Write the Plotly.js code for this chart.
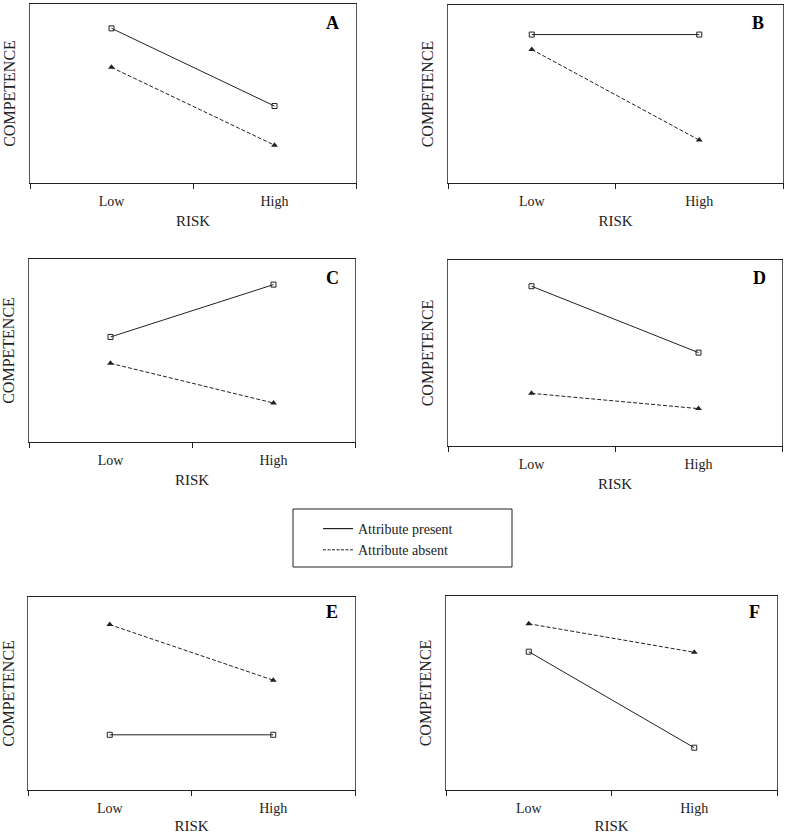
<!DOCTYPE html>
<html>
<head>
<meta charset="utf-8">
<script src="https://cdn.plot.ly/plotly-3.0.1.min.js"></script>
<style>html,body{margin:0;padding:0;background:#fff;}#chart{width:785px;height:834px;}</style>
</head>
<body>
<div id="chart"></div>
<script>
// ---- data ----
const riskLabels = ['Low', 'High'];
const panelNames = ['A', 'B', 'C', 'D', 'E', 'F'];
const seriesNames = ['Attribute present', 'Attribute absent'];
const presentA = [8.64, 4.30];
const absentA  = [6.46, 2.11];
const presentB = [8.34, 8.34];
const absentB  = [7.50, 2.41];
const presentC = [5.74, 8.60];
const absentC  = [4.30, 2.13];
const presentD = [8.59, 5.02];
const absentD  = [2.83, 2.01];
const presentE = [2.86, 2.86];
const absentE  = [8.57, 5.69];
const presentF = [7.13, 2.18];
const absentF  = [8.57, 7.10];
const xTitle = 'RISK';
const yTitle = 'COMPETENCE';

const presentAll = [presentA, presentB, presentC, presentD, presentE, presentF];
const absentAll  = [absentA, absentB, absentC, absentD, absentE, absentF];

// ---- layout geometry (pixels) ----
const W = 785, H = 834;
const boxes = [
  [30, 356, 4, 183],
  [448, 783, 5, 183],
  [29, 355, 259, 442],
  [448, 782, 260, 446],
  [28, 355, 597, 790],
  [446, 777, 596, 790]
];
const letterPos = [[332, 23], [758, 23], [332, 278], [759, 278], [332, 612], [754, 612]];
const FONT = 'Liberation Serif, Times New Roman, serif';
const INK = '#222';

const px = p => p / W;
const py = p => 1 - p / H;

const traces = [];
const layout = {
  width: W, height: H,
  margin: {l: 0, r: 0, t: 0, b: 0},
  paper_bgcolor: '#fff', plot_bgcolor: '#fff',
  font: {family: FONT, color: INK},
  annotations: [], shapes: [],
  showlegend: true,
  legend: {
    x: px(318), y: py(513), xanchor: 'left', yanchor: 'top',
    bgcolor: 'rgba(0,0,0,0)', borderwidth: 0,
    font: {family: FONT, size: 14, color: INK},
    tracegroupgap: 0
  }
};

panelNames.forEach((name, i) => {
  const k = i === 0 ? '' : String(i + 1);
  const b = boxes[i];
  const xa = 'x' + k, ya = 'y' + k;
  traces.push({
    type: 'scatter', mode: 'lines+markers', x: riskLabels, y: presentAll[i],
    xaxis: xa, yaxis: ya, showlegend: false, name: seriesNames[0],
    line: {color: INK, width: 1},
    marker: {symbol: 'square-open', size: 5, color: INK, line: {width: 1, color: INK}},
    hoverinfo: 'skip'
  });
  traces.push({
    type: 'scatter', mode: 'lines+markers', x: riskLabels, y: absentAll[i],
    xaxis: xa, yaxis: ya, showlegend: false, name: seriesNames[1],
    line: {color: INK, width: 1, dash: '4px,2px'},
    marker: {symbol: 'triangle-up', size: 6, color: INK},
    hoverinfo: 'skip'
  });
  layout['xaxis' + k] = {
    domain: [px(b[0]), px(b[1])], anchor: ya,
    type: 'category', categoryarray: riskLabels, categoryorder: 'array',
    range: [-0.5, 1.5], tickson: 'boundaries',
    ticks: 'outside', ticklen: 5, tickcolor: INK, tickwidth: 1,
    ticklabelstandoff: 5,
    showline: true, linecolor: INK, linewidth: 1, mirror: true,
    showgrid: false, zeroline: false, fixedrange: true,
    tickfont: {family: FONT, size: 14, color: INK},
    title: {text: xTitle, font: {family: FONT, size: 15, color: INK}, standoff: 7}
  };
  layout['yaxis' + k] = {
    domain: [py(b[3]), py(b[2])], anchor: xa,
    range: [0, 10], showticklabels: false, ticks: '',
    showline: true, linecolor: '#555', linewidth: 1, mirror: true,
    showgrid: false, zeroline: false, fixedrange: true,
    title: {text: yTitle, font: {family: FONT, size: 16, color: INK}, standoff: 9}
  };
  layout.annotations.push({
    xref: 'paper', yref: 'paper', x: px(letterPos[i][0]), y: py(letterPos[i][1]),
    xanchor: 'center', yanchor: 'middle', showarrow: false,
    text: '<b>' + name + '</b>', font: {family: FONT, size: 18, color: '#000'}
  });
});

// legend-only entries
traces.push({type: 'scatter', mode: 'lines', x: [null], y: [null], xaxis: 'x', yaxis: 'y',
  name: seriesNames[0], line: {color: INK, width: 1.2}, hoverinfo: 'skip'});
traces.push({type: 'scatter', mode: 'lines', x: [null], y: [null], xaxis: 'x', yaxis: 'y',
  name: seriesNames[1], line: {color: INK, width: 1, dash: '3px,1.5px'}, hoverinfo: 'skip'});

layout.shapes.push({type: 'rect', xref: 'paper', yref: 'paper',
  x0: px(293), x1: px(512), y0: py(567), y1: py(509),
  line: {color: INK, width: 1}, fillcolor: 'rgba(0,0,0,0)'});

Plotly.newPlot('chart', traces, layout, {staticPlot: true, displayModeBar: false});
</script>
</body>
</html>
